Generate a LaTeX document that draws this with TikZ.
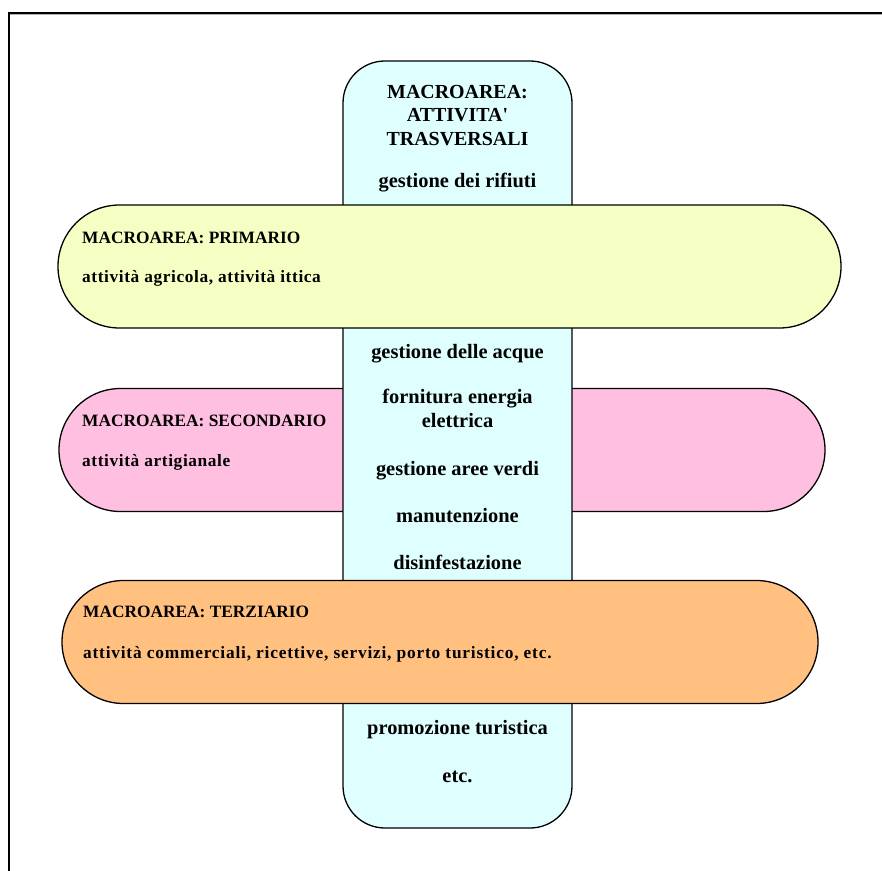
\documentclass[tikz,border=0pt]{standalone}
\usepackage{fontspec}
\setmainfont{Liberation Serif}
\definecolor{cyanfill}{HTML}{DFFFFF}
\definecolor{yelfill}{HTML}{F5FFC3}
\definecolor{pinkfill}{HTML}{FFBFE0}
\definecolor{orfill}{HTML}{FFC080}
\newcommand{\straightq}{{\addfontfeature{Ligatures=TeXOff}'}}
\begin{document}
\begin{tikzpicture}[x=1bp,y=-1bp,
  box/.style={draw=black, line width=1.3bp, inner sep=0pt, rectangle},
  ribbon/.style={box, rounded corners=61.5bp, minimum height=123bp},
  bluetxt/.style={font=\bfseries\fontsize{20.5}{23.5}\selectfont, anchor=base, inner sep=0pt, align=center},
  bluecap/.style={bluetxt, font=\bfseries\fontsize{20}{23.5}\selectfont},
  ribcap/.style={font=\bfseries\fontsize{17.4}{20}\selectfont, anchor=base west, inner sep=0pt},
  ribtxt/.style={font=\bfseries\fontsize{17.4}{20}\selectfont\addfontfeature{LetterSpace=3.5}, anchor=base west, inner sep=0pt},
  ribwide/.style={ribtxt, font=\bfseries\fontsize{17.4}{20}\selectfont\addfontfeature{LetterSpace=4.6}}]
\useasboundingbox (0,0) rectangle (882,871);
% frame
\draw[gray!60, line width=1bp] (10,14.8) -- (882,14.8);
\draw[black, line width=1.8bp] (8,13) -- (882,13);
\draw[black, line width=2bp] (9,12.1) -- (9,871);
% shapes
\node[ribbon, fill=pinkfill, minimum width=766bp] (pink) at (442,450) {};
\node[box, fill=cyanfill, rounded corners=42bp, minimum width=229bp, minimum height=767bp] (blue) at (457.5,444.5) {};
\node[ribbon, fill=yelfill, minimum width=783bp] (yel) at (449.5,266.5) {};
\node[ribbon, fill=orfill, minimum width=756bp] (ora) at (440,642) {};
% blue texts
\node[bluecap] (t1) at (457.5,145) {MACROAREA:\\ATTIVITA\straightq\\TRASVERSALI};
\node[bluetxt] (t2) at (457.5,187) {gestione dei rifiuti};
\node[bluetxt] (t3) at (457.5,358) {gestione delle acque};
\node[bluetxt] (t4) at (457.5,427.3) {fornitura energia\\elettrica};
\node[bluetxt] (t5) at (457.5,475) {gestione aree verdi};
\node[bluetxt] (t6) at (457.5,522.7) {manutenzione};
\node[bluetxt] (t7) at (457.5,569.3) {disinfestazione};
\node[bluetxt] (t8) at (457.5,734) {promozione turistica};
\node[bluetxt] (t9) at (457.5,782.7) {etc.};
% ribbon texts
\node[ribcap] (p1) at (82,243.3) {MACROAREA: PRIMARIO};
\node[ribtxt] (p2) at (82,282.3) {attività agricola, attività ittica};
\node[ribcap] (s1) at (82,426.7) {MACROAREA: SECONDARIO};
\node[ribtxt] (s2) at (82,466.7) {attività artigianale};
\node[ribcap] (r1) at (83,617.7) {MACROAREA: TERZIARIO};
\node[ribwide] (r2) at (83,658.3) {attività commerciali, ricettive, servizi, porto turistico, etc.};
\end{tikzpicture}
\end{document}
